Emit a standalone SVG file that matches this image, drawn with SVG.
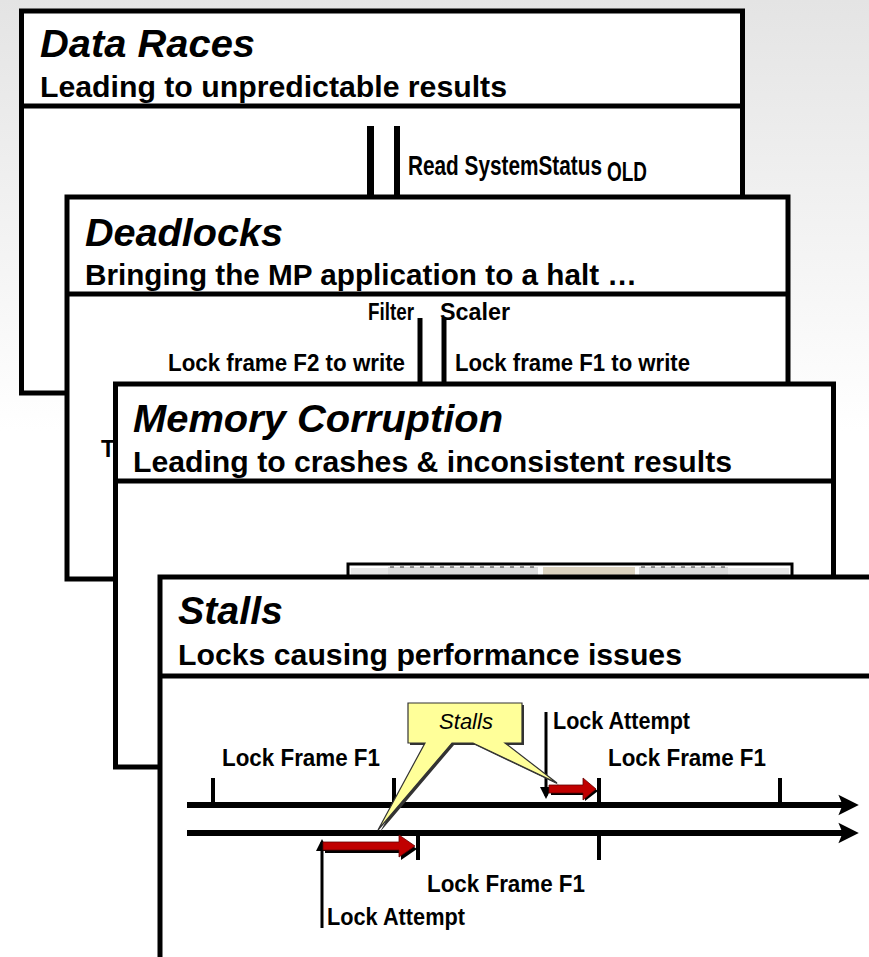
<svg xmlns="http://www.w3.org/2000/svg" width="869" height="957" viewBox="0 0 869 957">
  <defs>
    <linearGradient id="bg" x1="0" y1="0" x2="0" y2="1">
      <stop offset="0" stop-color="#e4e4e4"/>
      <stop offset="0.45" stop-color="#ffffff"/>
      <stop offset="1" stop-color="#ffffff"/>
    </linearGradient>
    <marker id="timeHead" markerWidth="4" markerHeight="4" refX="1.6" refY="2" orient="auto" markerUnits="strokeWidth">
      <path d="M0,0.3 L3.4,2 L0,3.7 L0.7,2 Z" fill="#000"/>
    </marker>
    <marker id="tickHead" markerWidth="4" markerHeight="4" refX="3" refY="2" orient="auto" markerUnits="strokeWidth">
      <path d="M0,0 L4,2 L0,4 Z" fill="#000"/>
    </marker>
  </defs>
  <style>
    .card { fill: #fff; stroke: #000; stroke-width: 5; }
    .rule { stroke: #000; stroke-width: 5; }
    .title { font-family: "Liberation Sans", Arial, sans-serif; font-weight: bold; font-style: italic; font-size: 38px; fill: #000; }
    .sub { font-family: "Liberation Sans", Arial, sans-serif; font-weight: bold; font-size: 29px; fill: #000; }
    .lbl { font-family: "Liberation Sans", Arial, sans-serif; font-weight: bold; font-size: 23px; fill: #000; }
    .bar { stroke: #000; }
    .axis { stroke: #000; stroke-width: 6; fill: none; }
    .tick { stroke: #000; stroke-width: 4; }
    .thin { stroke: #000; stroke-width: 3; fill: none; }
    .red { fill: #c00000; stroke: #600; stroke-width: 0.8; }
    .shadow { fill: #000; }
  </style>

  <rect x="0" y="0" width="869" height="957" fill="url(#bg)"/>

  <!-- Card 1: data races -->
  <g id="data-races">
    <rect class="card" x="21.5" y="11" width="721" height="382"/>
    <line class="rule" x1="21.5" y1="106" x2="742.5" y2="106"/>
    <text class="title" x="40" y="57" textLength="215" lengthAdjust="spacingAndGlyphs">Data Races</text>
    <text class="sub" x="40" y="97" textLength="467" lengthAdjust="spacingAndGlyphs">Leading to unpredictable results</text>
    <line class="bar" x1="370.5" y1="126" x2="370.5" y2="200" stroke-width="7"/>
    <line class="bar" x1="397" y1="126" x2="397" y2="200" stroke-width="6"/>
    <!-- condensed label with subscript -->
    <g transform="translate(408 175) scale(1 1.2)">
      <text class="lbl" x="0" y="0" font-size="20" textLength="194" lengthAdjust="spacingAndGlyphs">Read SystemStatus</text>
      <text class="lbl" x="199" y="5" font-size="12" textLength="40" lengthAdjust="spacingAndGlyphs">OLD</text>
    </g>
  </g>

  <!-- Card 2: deadlocks -->
  <g id="deadlocks">
    <rect class="card" x="67" y="197" width="721" height="382"/>
    <line class="rule" x1="67" y1="294" x2="788" y2="294"/>
    <text class="title" x="85" y="246" textLength="198" lengthAdjust="spacingAndGlyphs">Deadlocks</text>
    <text class="sub" x="85" y="285" textLength="552" lengthAdjust="spacingAndGlyphs">Bringing the MP application to a halt …</text>
    <text class="lbl" x="368" y="320" font-size="21" textLength="46" lengthAdjust="spacingAndGlyphs">Filter</text>
    <text class="lbl" x="440" y="320" font-size="21" textLength="70" lengthAdjust="spacingAndGlyphs">Scaler</text>
    <line class="bar" x1="420" y1="318" x2="420" y2="386" stroke-width="5"/>
    <line class="bar" x1="444" y1="318" x2="444" y2="386" stroke-width="5"/>
    <text class="lbl" x="168" y="371" textLength="237" lengthAdjust="spacingAndGlyphs">Lock frame F2 to write</text>
    <text class="lbl" x="455" y="371" textLength="235" lengthAdjust="spacingAndGlyphs">Lock frame F1 to write</text>
    <text class="lbl" x="101" y="457" font-size="24">T</text>
  </g>

  <!-- Card 3: memory corruption -->
  <g id="memory-corruption">
    <rect class="card" x="115.5" y="384" width="718" height="383"/>
    <line class="rule" x1="115.5" y1="481" x2="833.5" y2="481"/>
    <text class="title" x="133" y="432" textLength="370" lengthAdjust="spacingAndGlyphs">Memory Corruption</text>
    <text class="sub" x="133" y="472" textLength="599" lengthAdjust="spacingAndGlyphs">Leading to crashes &amp; inconsistent results</text>
    <!-- memory map strip -->
    <rect x="348" y="564" width="444" height="14" fill="#fff" stroke="#000" stroke-width="3"/>
    <rect x="351" y="568" width="37" height="8" fill="#e8e8e8"/>
    <rect x="388" y="567" width="150" height="9" fill="#dcdcdc"/>
    <rect x="543" y="567" width="92" height="9" fill="#dcd3c0"/>
    <rect x="639" y="567" width="89" height="9" fill="#dcdcdc"/>
    <rect x="728" y="568" width="61" height="8" fill="#e8e8e8"/>
    <line x1="390" y1="567" x2="536" y2="567" stroke="#333" stroke-width="1.2" stroke-dasharray="4 6"/>
    <line x1="641" y1="567" x2="726" y2="567" stroke="#333" stroke-width="1.2" stroke-dasharray="4 6"/>
  </g>

  <!-- Card 4: stalls -->
  <g id="stalls">
    <rect class="card" x="160" y="577" width="720" height="400"/>
    <line class="rule" x1="160" y1="676" x2="880" y2="676"/>
    <text class="title" x="178" y="624" textLength="105" lengthAdjust="spacingAndGlyphs">Stalls</text>
    <text class="sub" x="178" y="665" textLength="504" lengthAdjust="spacingAndGlyphs">Locks causing performance issues</text>

    <text class="lbl" x="222" y="766" textLength="158" lengthAdjust="spacingAndGlyphs">Lock Frame F1</text>
    <text class="lbl" x="608" y="766" textLength="158" lengthAdjust="spacingAndGlyphs">Lock Frame F1</text>
    <text class="lbl" x="427" y="892" textLength="158" lengthAdjust="spacingAndGlyphs">Lock Frame F1</text>
    <text class="lbl" x="553" y="729" textLength="137" lengthAdjust="spacingAndGlyphs">Lock Attempt</text>
    <text class="lbl" x="327" y="925" textLength="138" lengthAdjust="spacingAndGlyphs">Lock Attempt</text>
  </g>

  <!-- Timelines, ticks and lock markers -->
  <g id="connectors">
    <line class="axis" x1="187" y1="805" x2="848" y2="805" marker-end="url(#timeHead)"/>
    <line class="axis" x1="187" y1="833" x2="848" y2="833" marker-end="url(#timeHead)"/>

    <line class="tick" x1="213" y1="778" x2="213" y2="805"/>
    <line class="tick" x1="394" y1="778" x2="394" y2="805"/>
    <line class="tick" x1="599" y1="778" x2="599" y2="805"/>
    <line class="tick" x1="780" y1="778" x2="780" y2="805"/>
    <line class="tick" x1="418" y1="833" x2="418" y2="860"/>
    <line class="tick" x1="599" y1="833" x2="599" y2="860"/>

    <line class="thin" x1="546" y1="712" x2="546" y2="796" marker-end="url(#tickHead)"/>
    <line class="thin" x1="322" y1="928" x2="322" y2="842" marker-end="url(#tickHead)"/>

    <!-- wait intervals -->
    <path class="shadow" d="M551,788 H585 V781 L598,791 L585,801 V795 H551 Z"/>
    <path class="red" d="M549,785 H583 V778 L596,789 L583,800 V793 H549 Z"/>
    <path class="shadow" d="M325,845 H401 V838 L417,849 L401,860 V853 H325 Z"/>
    <path class="red" d="M323,842 H399 V835 L415,846 L399,857 V850 H323 Z"/>
  </g>

  <!-- Callout -->
  <g id="stalls-callout">
    <path d="M410,705 H524 V745 H507 L559,785 L475,745 H454 L380,832 L427,745 H410 Z" fill="#333"/>
    <path d="M408,703 H522 V743 H505 L557,783 L473,743 H452 L378,830 L425,743 H408 Z" fill="#ffff99" stroke="#333" stroke-width="1.2"/>
    <text x="466" y="729" text-anchor="middle" font-family="'Liberation Sans', Arial, sans-serif" font-style="italic" font-size="22" fill="#000">Stalls</text>
  </g>
</svg>
